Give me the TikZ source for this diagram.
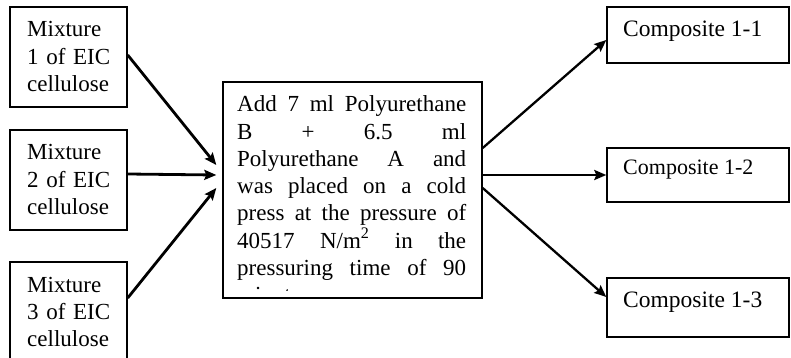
\documentclass[tikz,border=0pt]{standalone}
\usepackage{fontspec}
\setmainfont{Liberation Serif}
\usetikzlibrary{arrows.meta,calc}
\begin{document}
\begin{tikzpicture}[x=1pt,y=-1pt,
  box/.style={draw, line width=1.4pt, inner sep=0pt},
  lbl/.style={anchor=base west, inner sep=0pt, align=left, text width=#1,
    font=\fontsize{23}{27.2}\selectfont},
  lbl/.default=110pt,
  clbl/.style={anchor=base west, inner sep=0pt, font=\fontsize{#1}{27.2}\selectfont},
  clbl/.default=23.5,
  connL/.style={line width=2.8pt, -{Stealth[length=12pt,width=10pt,inset=2pt]}},
  connR/.style={line width=2.3pt, -{Stealth[length=12pt,width=10pt,inset=2pt]}}]
\useasboundingbox (0,0) rectangle (791,358);

% left boxes
\node[box, minimum width=117pt, minimum height=100pt] (b1) at (68.5,57) {};
\node[box, minimum width=117pt, minimum height=100pt] (b2) at (68.5,180) {};
\node[box, minimum width=117pt, minimum height=100pt] (b3) at (68.5,312) {};
\node[lbl] (t1) at (27,37) {Mixture\\1 of EIC\\cellulose};
\node[lbl] (t2) at (27,160) {Mixture\\2 of EIC\\cellulose};
\node[lbl] (t3) at (27,292) {Mixture\\3 of EIC\\cellulose};

% middle box
\node[box, minimum width=259pt, minimum height=216pt] (mid) at (352.5,190) {};
\begin{scope}
\clip (223,82) rectangle (482,290);
\node[lbl=229pt, align=justify] (tm) at (237,112) {%
\makebox[229pt][s]{Add 7 ml Polyurethane}\\
\makebox[229pt][s]{B + 6.5 ml}\\
\makebox[229pt][s]{Polyurethane A and}\\
\makebox[229pt][s]{was placed on a cold}\\
\makebox[229pt][s]{press at the pressure of}\\
\makebox[229pt][s]{40517 N/m\textsuperscript{2} in the}\\
\makebox[229pt][s]{pressuring time of 90}\\
minutes};
\end{scope}
\node[box, minimum width=259pt, minimum height=216pt] at (mid) {};

% right boxes
\node[box, minimum width=182pt, minimum height=56pt] (c1) at (698,35) {};
\node[box, minimum width=182pt, minimum height=54pt] (c2) at (698,175) {};
\node[box, minimum width=182pt, minimum height=59pt] (c3) at (698,307.5) {};
\node[clbl] (tc1) at (623,37) {Composite 1-1};
\node[clbl=22] (tc2) at (623,175) {Composite 1-2};
\node[clbl] (tc3) at (623,307) {Composite 1-3};

% connectors
\draw[connL] ([yshift=2pt]b1.east) -- ([xshift=-6pt,yshift=25pt]mid.west);
\draw[connL] ([yshift=6pt]b2.east) -- ([xshift=-6pt,yshift=15pt]mid.west);
\draw[connL] ([yshift=14pt]b3.east) -- ([xshift=-6pt,yshift=2pt]mid.west);
\draw[connR] ([yshift=42pt]mid.east) -- ([yshift=-5pt]c1.west);
\draw[connR] ([yshift=15pt]mid.east) -- (c2.west);
\draw[connR] ([yshift=2pt]mid.east) -- ([yshift=10.5pt]c3.west);
\end{tikzpicture}
\end{document}
